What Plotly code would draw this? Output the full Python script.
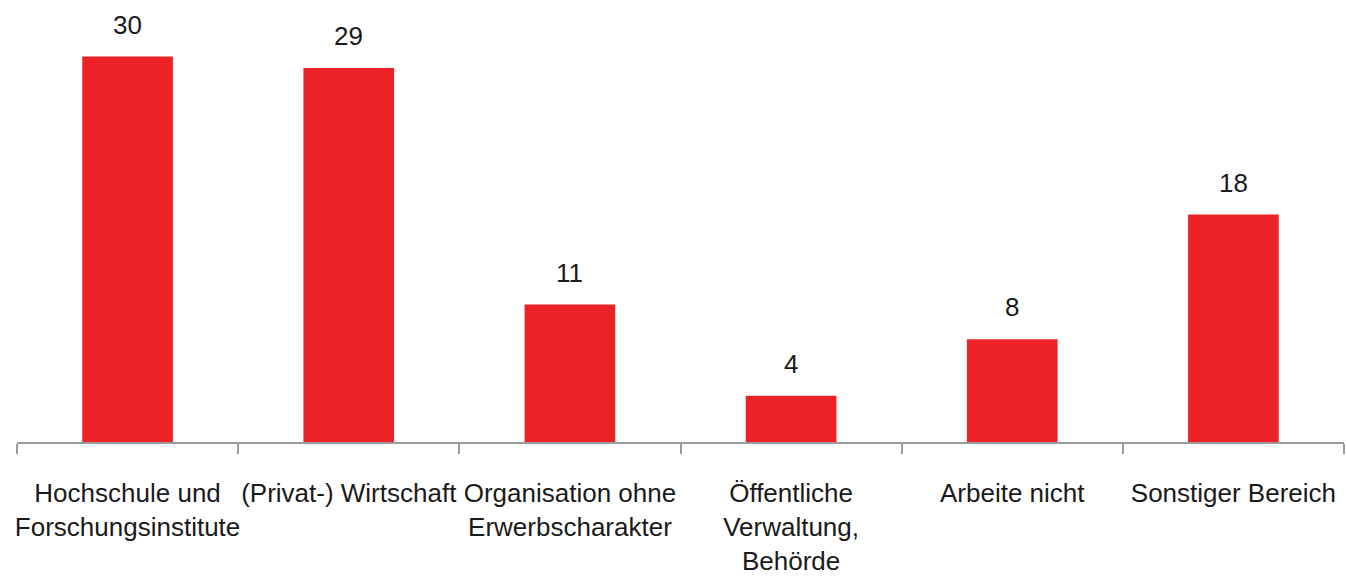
import plotly.graph_objects as go

categories = ["Hochschule und<br>Forschungsinstitute", "(Privat-) Wirtschaft",
              "Organisation ohne<br>Erwerbscharakter", "Öffentliche<br>Verwaltung,<br>Behörde",
              "Arbeite nicht", "Sonstiger Bereich"]
values = [30.0, 29.1, 10.7, 3.6, 8.0, 17.7]
labels = ["30", "29", "11", "4", "8", "18"]

fig = go.Figure()
fig.add_trace(go.Bar(x=categories, y=values, marker=dict(color="#EC2227", line=dict(width=0)),
                     width=0.41, hoverinfo="skip"))
for c, v, t in zip(categories, values, labels):
    fig.add_annotation(x=c, y=v, text=t, showarrow=False, yanchor="bottom", yshift=15,
                       font=dict(size=26, color="#1a1a1a"))

fig.update_layout(
    width=1346, height=584,
    margin=dict(l=17, r=2, t=0, b=142),
    paper_bgcolor="white", plot_bgcolor="white",
    font=dict(family="Liberation Sans, Arial, sans-serif", color="#1a1a1a"),
    showlegend=False,
)
fig.update_xaxes(showline=True, linecolor="#9a9a9a", linewidth=1.5, ticks="outside",
                 tickson="boundaries", ticklen=10, tickcolor="#9a9a9a", tickwidth=1.5,
                 showgrid=False, tickfont=dict(size=26, color="#1a1a1a"), tickangle=0,
                 ticklabelstandoff=27)
fig.update_yaxes(visible=False, range=[0, 34.4], showgrid=False)

fig.write_html("out.html", config={"displayModeBar": False},
               post_script="document.body.style.margin='0';")
